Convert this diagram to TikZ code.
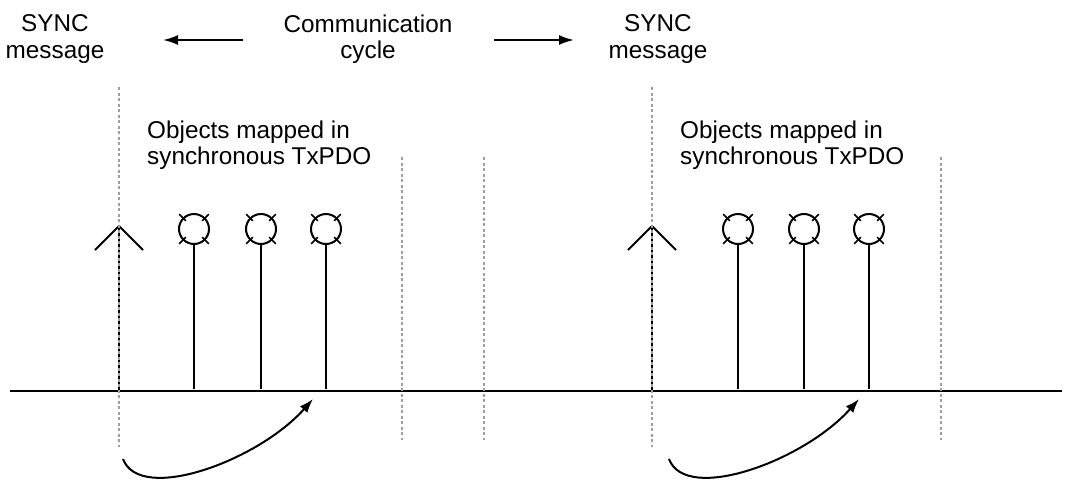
\documentclass[tikz,border=0pt]{standalone}
\usepackage{fontspec}
\setmainfont{Liberation Sans}
\usetikzlibrary{arrows.meta}
\begin{document}
\begin{tikzpicture}[x=1pt,y=-1pt,
  txt/.style={inner sep=0pt,font=\fontsize{24.3}{26.5}\selectfont},
  solidln/.style={line width=2pt,black},
  guide/.style={line width=2.2pt,gray!75,dash pattern=on 3pt off 2.5pt},
  objc/.style={circle,draw,line width=2pt,minimum size=30pt,inner sep=0pt},
  tick/.style={line width=1.7pt},
  arr/.style={line width=2pt,-{Latex[length=15pt,width=10pt]}},
  curvearr/.style={line width=2pt,-{Latex[length=14pt,width=10pt]}}]
\useasboundingbox (0,0) rectangle (1072,483);
% texts
\node[txt,align=center] (sync1) at (55,39) {SYNC\\message};
\node[txt,align=center] (cc) at (368,39) {Communication\\cycle};
\node[txt,align=center] (sync2) at (658,39) {SYNC\\message};
\node[txt,align=left,anchor=west] (obj1) at (147,145) {Objects mapped in\\synchronous TxPDO};
\node[txt,align=left,anchor=west] (obj2) at (680,145) {Objects mapped in\\synchronous TxPDO};
% cycle arrows
\coordinate (la1) at (243,40); \coordinate (la2) at (163,40);
\coordinate (ra1) at (494,40); \coordinate (ra2) at (574,40);
\draw[arr] (la1) -- (la2);
\draw[arr] (ra1) -- (ra2);
% axis
\coordinate (axL) at (10,391); \coordinate (axR) at (1062,391);
\draw[solidln] (axL) -- (axR);
% dashed guides
\foreach \n/\x/\ya/\yb in {g1/119/87/447, g2/402/157/440, g3/484/157/440, g4/652/87/447, g5/941/157/440}{
  \coordinate (\n t) at (\x,\ya); \coordinate (\n b) at (\x,\yb);
}
% sync arrows (shaft)
\foreach \n/\x in {s1/119, s2/652}{
  \coordinate (\n apex) at (\x,226);
  \coordinate (\n l) at (\x-24,250);
  \coordinate (\n r) at (\x+24,250);
  \coordinate (\n foot) at (\x,391);
  \draw[solidln,line width=1.5pt] (\n apex) -- (\n foot);
  \draw[solidln,line join=miter] (\n l) -- (\n apex) -- (\n r);
}
\foreach \n in {g1,g2,g3,g4,g5}{ \draw[guide] (\n t) -- (\n b); }
% objects
\foreach \n/\x in {o1/194, o2/261, o3/326, o4/738, o5/804, o6/869}{
  \node[objc] (\n) at (\x,229) {};
  \foreach \a in {45,135,225,315}{
    \draw[tick] (\n.center) ++(\a:11.5) -- ++(\a:9.5);
  }
  \coordinate (\n foot) at (\x,389);
  \draw[solidln] (\n.south) -- (\n foot);
}
% curved arrows
\coordinate (c1s) at (123,459); \coordinate (c1e) at (313,399);
\coordinate (c2s) at (669,459); \coordinate (c2e) at (859,399);
\draw[curvearr] (c1s) .. controls +(17,45) and +(-55,62) .. (c1e);
\draw[curvearr] (c2s) .. controls +(17,45) and +(-55,62) .. (c2e);
\end{tikzpicture}
\end{document}
